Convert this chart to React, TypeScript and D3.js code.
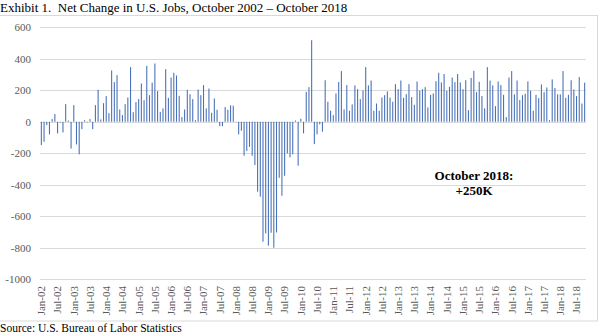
import React from "react";
import * as d3 from "d3";

// Net change in U.S. nonfarm jobs (thousands), monthly Jan 2002 – Oct 2018
const netChange: number[] = [
  // 2002
  -148, -127, -21, -80, 17, 49, -74, -5, -68, 112, 8, -170,
  // 2003
  106, -144, -207, -47, 10, -4, 17, -47, 106, 203, 15, 118,
  // 2004
  163, 55, 326, 252, 296, 78, 42, 112, 154, 347, 61, 125,
  // 2005
  144, 243, 137, 355, 169, 248, 370, 195, 63, 85, 334, 152,
  // 2006
  281, 311, 294, 165, 30, 78, 203, 175, 144, 10, 205, 169,
  // 2007
  233, 85, 211, 57, 148, 76, -28, -28, 93, 76, 104, 102,
  // 2008
  2, -80, -57, -215, -186, -160, -216, -275, -444, -476, -762, -709,
  // 2009
  -787, -705, -800, -703, -356, -470, -343, -201, -226, -207, 8, -279,
  // 2010
  19, -74, 190, 220, 518, -142, -80, -17, -63, 264, 127, 70,
  // 2011
  42, 180, 252, 322, 78, 233, 70, 110, 231, 207, 144, 199,
  // 2012
  347, 231, 262, 70, 116, 70, 154, 169, 193, 154, 127, 239,
  // 2013
  207, 262, 152, 175, 239, 157, 108, 256, 199, 207, 220, 91,
  // 2014
  171, 180, 258, 311, 250, 303, 197, 222, 281, 252, 303, 250,
  // 2015
  207, 264, 74, 279, 324, 188, 254, 163, 85, 347, 262, 231,
  // 2016
  99, 256, 233, 171, 30, 281, 322, 174, 262, 138, 169, 178,
  // 2017
  256, 197, 70, 171, 150, 237, 188, 218, 10, 269, 214, 174,
  // 2018
  174, 322, 152, 171, 264, 205, 163, 284, 116, 248,
];

const monthNames = ["Jan", "Feb", "Mar", "Apr", "May", "Jun", "Jul", "Aug", "Sep", "Oct", "Nov", "Dec"];
const startYear = 2002;
const categories: string[] = netChange.map((_, i) => {
  const y = startYear + Math.floor(i / 12);
  return `${monthNames[i % 12]}-${String(y % 100).padStart(2, "0")}`;
});

const tickLabels: string[] = [
  "Jan-02", "Jul-02", "Jan-03", "Jul-03", "Jan-04", "Jul-04", "Jan-05", "Jul-05",
  "Jan-06", "Jul-06", "Jan-07", "Jul-07", "Jan-08", "Jul-08", "Jan-09", "Jul-09",
  "Jan-10", "Jul-10", "Jan-11", "Jul-11", "Jan-12", "Jul-12", "Jan-13", "Jul-13",
  "Jan-14", "Jul-14", "Jan-15", "Jul-15", "Jan-16", "Jul-16", "Jan-17", "Jul-17",
  "Jan-18", "Jul-18",
];

const yTicks: number[] = [600, 400, 200, 0, -200, -400, -600, -800, -1000];

const titleText = "Exhibit 1.  Net Change in U.S. Jobs, October 2002 \u2013 October 2018";
const sourceText = "Source: U.S. Bureau of Labor Statistics";
const annotationLines: string[] = ["October 2018:", "+250K"];

const FONT = "'Liberation Serif', 'DejaVu Serif', serif";

export default function App() {
  const W = 600;
  const H = 336;
  const plotLeft = 40;
  const plotRight = 586;
  const yTop = 27.3;
  const yBottom = 279.2;

  const x = d3
    .scaleBand<string>()
    .domain(categories)
    .range([plotLeft, plotRight])
    .paddingInner(0.6)
    .paddingOuter(0.3);

  const y = d3.scaleLinear().domain([-1000, 600]).range([yBottom, yTop]);

  const bw = x.bandwidth();

  return (
    <svg
      width={W}
      height={H}
      style={{ position: "absolute", left: 0, top: 0, background: "#fff" }}
      fontFamily={FONT}
    >
      <rect x={0} y={0} width={W} height={H} fill="#fff" />
      {/* chart frame */}
      <rect x={-1} y={15.5} width={598.5} height={305.5} fill="none" stroke="#d9d9d9" strokeWidth={1} />
      <text x={0} y={12} fontSize={13} fill="#000" style={{ whiteSpace: "pre" }}>
        {titleText}
      </text>

      {/* gridlines */}
      {yTicks.map((t) => (
        <line
          key={`g${t}`}
          x1={plotLeft}
          x2={plotRight}
          y1={Math.round(y(t)) + 0.5}
          y2={Math.round(y(t)) + 0.5}
          stroke="#d9d9d9"
          strokeWidth={1}
        />
      ))}

      {/* y tick labels */}
      {yTicks.map((t) => (
        <text
          key={`yl${t}`}
          x={31}
          y={y(t)}
          dy="0.35em"
          textAnchor="end"
          fontSize={11}
          fill="#595959"
        >
          {t}
        </text>
      ))}

      {/* bars */}
      {netChange.map((v, i) => {
        const y0 = y(0);
        const yv = y(v);
        return (
          <rect
            key={`b${i}`}
            x={x(categories[i])!}
            y={Math.min(y0, yv)}
            width={bw}
            height={Math.abs(yv - y0)}
            fill="#4a72b8"
          />
        );
      })}

      {/* x tick labels */}
      {tickLabels.map((lab) => {
        const cx = (x(lab) ?? 0) + bw / 2;
        return (
          <text
            key={`xl${lab}`}
            transform={`translate(${cx},${286}) rotate(-90)`}
            textAnchor="end"
            dy="0.35em"
            fontSize={11}
            fill="#595959"
          >
            {lab}
          </text>
        );
      })}

      {/* annotation */}
      {annotationLines.map((line, k) => (
        <text
          key={`a${k}`}
          x={474}
          y={179.5 + k * 15}
          textAnchor="middle"
          fontSize={13}
          fontWeight="bold"
          fill="#000"
        >
          {line}
        </text>
      ))}

      <text x={0} y={332} fontSize={11.5} fill="#000">
        {sourceText}
      </text>
    </svg>
  );
}
